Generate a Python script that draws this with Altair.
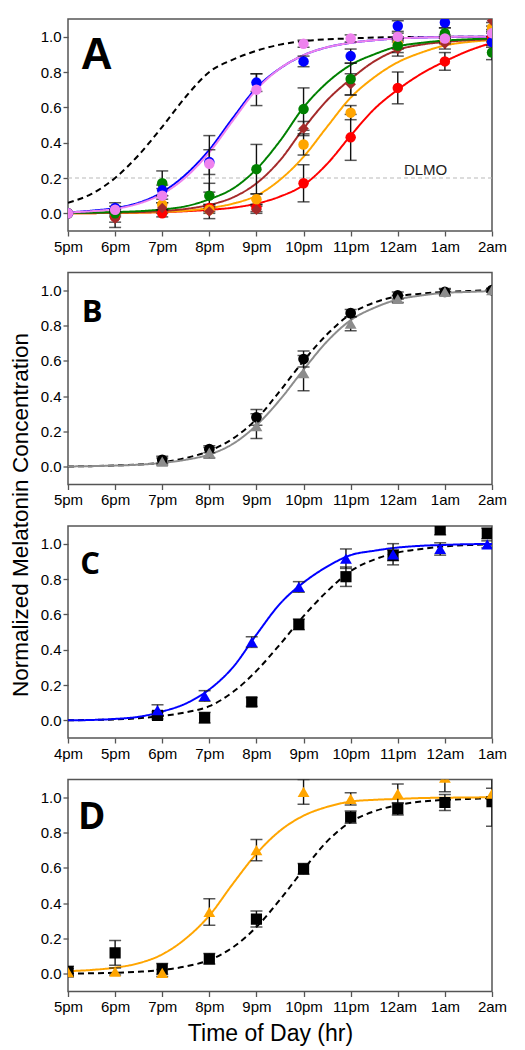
import altair as alt
import pandas as pd

FONT = "Liberation Sans"

# ---------------- data ----------------
# x tick positions / labels (hours after midnight of the previous day)
ticks_5pm = [17, 18, 19, 20, 21, 22, 23, 24, 25, 26]
labels_5pm = ["5pm", "6pm", "7pm", "8pm", "9pm", "10pm", "11pm", "12am", "1am", "2am"]
ticks_4pm = [16, 17, 18, 19, 20, 21, 22, 23, 24, 25]
labels_4pm = ["4pm", "5pm", "6pm", "7pm", "8pm", "9pm", "10pm", "11pm", "12am", "1am"]
y_ticks = [0.0, 0.2, 0.4, 0.6, 0.8, 1.0]

# curve sample times (half-hourly)
curve_t_5pm = [17, 17.5, 18, 18.5, 19, 19.5, 20, 20.5, 21, 21.5, 22, 22.5, 23, 23.5, 24, 24.5, 25, 25.5, 26]
curve_t_4pm = [16, 16.5, 17, 17.5, 18, 18.5, 19, 19.5, 20, 20.5, 21, 21.5, 22, 22.5, 23, 23.5, 24, 24.5, 25]

# ---- Panel A ----
a_t = [17, 18, 19, 20, 21, 22, 23, 24, 25, 26]
a_red = [0.0, -0.02, 0.0, 0.03, 0.03, 0.17, 0.43, 0.71, 0.86, 1.0]
a_red_err = [0.0, 0.03, 0.02, 0.02, 0.02, 0.105, 0.13, 0.09, 0.05, 0.03]
a_orange = [0.0, 0.0, 0.05, 0.02, 0.08, 0.39, 0.57, 0.96, 0.98, 1.05]
a_orange_err = [0.0, 0.01, 0.03, 0.02, 0.03, 0.06, 0.04, 0.03, 0.02, 0.03]
a_brown = [0.0, -0.03, 0.03, 0.01, 0.02, 0.48, 0.73, 0.93, 0.96, 1.09]
a_brown_err = [0.0, 0.05, 0.03, 0.04, 0.02, 0.04, 0.06, 0.04, 0.03, 0.03]
a_green = [0.0, 0.0, 0.17, 0.10, 0.25, 0.59, 0.76, 0.95, 1.02, 0.91]
a_green_err = [0.0, 0.02, 0.07, 0.07, 0.14, 0.12, 0.09, 0.04, 0.03, 0.04]
a_blue = [0.0, 0.03, 0.13, 0.29, 0.74, 0.86, 0.89, 1.06, 1.08, 0.97]
a_blue_err = [0.0, 0.03, 0.03, 0.07, 0.05, 0.03, 0.04, 0.03, 0.03, 0.03]
a_violet = [0.0, 0.02, 0.10, 0.28, 0.70, 0.96, 0.99, 1.0, 0.99, 1.02]
a_violet_err = [0.0, 0.02, 0.04, 0.16, 0.09, 0.02, 0.02, 0.02, 0.02, 0.02]

a_fit_black = [0.06, 0.11, 0.20, 0.33, 0.49, 0.66, 0.80, 0.87, 0.92, 0.955, 0.975, 0.985, 0.99, 0.995, 0.997, 0.998, 0.999, 1.0, 1.0]
a_fit_blue = [0.005, 0.015, 0.03, 0.06, 0.12, 0.22, 0.36, 0.54, 0.71, 0.82, 0.895, 0.94, 0.965, 0.98, 0.99, 0.995, 0.998, 1.0, 1.0]
a_fit_violet = [0.005, 0.012, 0.025, 0.055, 0.11, 0.205, 0.345, 0.525, 0.70, 0.82, 0.895, 0.94, 0.965, 0.98, 0.99, 0.995, 0.998, 1.0, 1.0]
a_fit_green = [0.002, 0.004, 0.007, 0.012, 0.022, 0.04, 0.08, 0.14, 0.25, 0.41, 0.60, 0.74, 0.84, 0.90, 0.945, 0.965, 0.978, 0.985, 0.99]
a_fit_brown = [0.001, 0.002, 0.004, 0.007, 0.013, 0.025, 0.048, 0.09, 0.17, 0.30, 0.48, 0.64, 0.76, 0.86, 0.925, 0.955, 0.97, 0.98, 0.985]
a_fit_orange = [0.0, 0.001, 0.002, 0.004, 0.008, 0.015, 0.03, 0.055, 0.10, 0.19, 0.32, 0.49, 0.655, 0.77, 0.855, 0.91, 0.95, 0.97, 0.98]
a_fit_red = [0.0, 0.001, 0.002, 0.004, 0.007, 0.012, 0.02, 0.032, 0.055, 0.095, 0.16, 0.28, 0.44, 0.59, 0.70, 0.79, 0.86, 0.92, 0.965]

# ---- Panel B ----
b_t = [19, 20, 21, 22, 23, 24, 25, 26]
b_black = [0.04, 0.10, 0.28, 0.61, 0.87, 0.97, 0.99, 1.0]
b_black_err = [0.02, 0.02, 0.045, 0.045, 0.02, 0.02, 0.015, 0.01]
b_gray = [0.03, 0.08, 0.23, 0.53, 0.81, 0.95, 0.99, 1.0]
b_gray_err = [0.02, 0.03, 0.07, 0.10, 0.04, 0.02, 0.02, 0.01]
b_fit_black = [0.002, 0.004, 0.008, 0.013, 0.025, 0.05, 0.09, 0.16, 0.27, 0.43, 0.60, 0.75, 0.865, 0.93, 0.965, 0.98, 0.99, 0.995, 1.0]
b_fit_gray = [0.002, 0.004, 0.007, 0.012, 0.022, 0.04, 0.07, 0.13, 0.235, 0.38, 0.55, 0.71, 0.83, 0.90, 0.947, 0.97, 0.985, 0.99, 0.995]

# ---- Panel C ----
c_t = [17.9, 18.9, 19.9, 20.9, 21.9, 22.9, 23.9, 24.9]
c_blue = [0.058, 0.138, 0.443, 0.755, 0.915, 0.94, 0.97, 0.996]
c_blue_err = [0.03, 0.03, 0.03, 0.03, 0.055, 0.06, 0.035, 0.02]
c_black = [0.028, 0.015, 0.104, 0.543, 0.813, 0.934, 1.08, 1.058]
c_black_err = [0.02, 0.03, 0.025, 0.03, 0.055, 0.03, 0.03, 0.03]
c_fit_blue = [0.0, 0.002, 0.008, 0.02, 0.05, 0.095, 0.175, 0.30, 0.485, 0.66, 0.78, 0.87, 0.935, 0.96, 0.978, 0.988, 0.993, 0.997, 0.998]
c_fit_black = [0.0, 0.002, 0.005, 0.012, 0.025, 0.045, 0.08, 0.16, 0.28, 0.43, 0.59, 0.73, 0.845, 0.91, 0.95, 0.97, 0.985, 0.992, 0.997]

# ---- Panel D ----
d_t = [17, 18, 19, 20, 21, 22, 23, 24, 25, 26]
d_black = [0.013, 0.119, 0.028, 0.085, 0.31, 0.594, 0.887, 0.934, 0.97, 0.975]
d_black_err = [0.03, 0.07, 0.03, 0.03, 0.045, 0.03, 0.035, 0.035, 0.045, 0.14]
d_orange = [0.01, 0.013, 0.005, 0.35, 0.70, 1.03, 0.99, 1.02, 1.11, 1.02]
d_orange_err = [0.02, 0.02, 0.02, 0.075, 0.06, 0.07, 0.035, 0.055, 0.08, 0.03]
d_fit_orange = [0.015, 0.022, 0.035, 0.06, 0.11, 0.20, 0.33, 0.51, 0.68, 0.81, 0.895, 0.945, 0.975, 0.985, 0.99, 0.995, 0.997, 0.998, 1.0]
d_fit_black = [0.002, 0.003, 0.006, 0.012, 0.022, 0.042, 0.078, 0.15, 0.265, 0.42, 0.59, 0.75, 0.86, 0.92, 0.955, 0.975, 0.985, 0.99, 0.995]

# ---------------- helpers ----------------
SOLID = [1, 0]
DASH = [6, 4]


def label_expr(ticks, labels):
    expr = "''"
    for t, l in reversed(list(zip(ticks, labels))):
        expr = f"datum.value == {t} ? '{l}' : ({expr})"
    return expr


def points_df(t, series):
    rows = []
    for name, vals, errs in series:
        for ti, v, e in zip(t, vals, errs):
            rows.append({"series": name, "t": ti, "v": v, "err": e,
                         "lo": v - e, "hi": v + e})
    return pd.DataFrame(rows)


def curves_df(t, curves):
    rows = []
    for name, vals in curves:
        for ti, v in zip(t, vals):
            rows.append({"series": name, "t": ti, "v": v})
    return pd.DataFrame(rows)


def panel(pts, crv, styles, xdom, xticks, xlabels, letter, letter_pos,
          letter_style, xtitle=None, ytitle=None, dlmo=False):
    names = list(styles.keys())
    colors = [styles[n]["color"] for n in names]
    shapes = [styles[n].get("shape", "circle") for n in names]
    sizes = [styles[n].get("size", 110) for n in names]
    dashes = [styles[n].get("dash", SOLID) for n in names]

    xaxis_kw = dict(values=xticks, labelExpr=label_expr(xticks, xlabels),
                    labelFlush=False, labelOverlap=False, labelBound=False)
    if xtitle:
        xaxis_kw.update(title=xtitle, titleFontSize=23, titleFont=FONT,
                        titleFontWeight="normal", titleBaseline="alphabetic",
                        titleY=49, titleX=202, titleAlign="center")
    else:
        xaxis_kw.update(title=None)
    yaxis_kw = dict(values=y_ticks, format=".1f", labelFlush=False, labelOverlap=False)
    if ytitle:
        yaxis_kw.update(title=ytitle, titleFontSize=22.5, titleFont=FONT,
                        titleFontWeight="normal", titleAngle=270,
                        titleBaseline="alphabetic", titleAlign="center",
                        titleX=-41, titleY=242)
    else:
        yaxis_kw.update(title=None)

    xscale = alt.Scale(domain=xdom, nice=False, zero=False)
    yscale = alt.Scale(domain=[-0.1, 1.1], nice=False, zero=False)
    X = lambda f: alt.X(f"{f}:Q", scale=xscale, axis=alt.Axis(**xaxis_kw))
    Y = lambda f: alt.Y(f"{f}:Q", scale=yscale, axis=alt.Axis(**yaxis_kw))
    color = alt.Color("series:N", scale=alt.Scale(domain=names, range=colors), legend=None)

    layers = []
    if dlmo:
        layers.append(alt.Chart(pd.DataFrame({"v": [0.2]})).mark_rule(
            color="#b9b9b9", strokeDash=[4, 3], strokeWidth=1.2).encode(y=Y("v")))
        layers.append(alt.Chart(pd.DataFrame({"t": [24.13], "v": [0.215], "txt": ["DLMO"]})).mark_text(
            align="left", baseline="alphabetic", fontSize=15, font=FONT, color="#222222"
        ).encode(x=X("t"), y=Y("v"), text="txt:N"))

    layers.append(alt.Chart(crv).mark_line(clip=True, strokeWidth=2, interpolate="monotone").encode(
        x=X("t"), y=Y("v"), color=color,
        strokeDash=alt.StrokeDash("series:N", scale=alt.Scale(domain=names, range=dashes), legend=None)))

    eb = pts[pts["err"] > 0]
    layers.append(alt.Chart(eb).mark_rule(clip=True, color="#111111", strokeWidth=1.4).encode(
        x=X("t"), y=Y("lo"), y2="hi:Q", detail="series:N"))
    caps = pd.concat([eb.assign(c=eb["lo"]), eb.assign(c=eb["hi"])])
    layers.append(alt.Chart(caps).mark_tick(clip=True, orient="horizontal", size=12,
                                            thickness=1.5, color="#111111").encode(
        x=X("t"), y=Y("c")))

    layers.append(alt.Chart(pts).mark_point(clip=True, filled=True, opacity=1).encode(
        x=X("t"), y=Y("v"), color=color,
        shape=alt.Shape("series:N", scale=alt.Scale(domain=names, range=shapes), legend=None),
        size=alt.Size("series:N", scale=alt.Scale(domain=names, range=sizes), legend=None)))

    layers.append(alt.Chart(pd.DataFrame({"t": [letter_pos[0]], "v": [letter_pos[1]], "lab": [letter]})).mark_text(
        align="left", baseline="alphabetic", color="black", **letter_style
    ).encode(x=X("t"), y=Y("v"), text="lab:N"))

    return alt.layer(*layers).properties(width=424, height=212)


# ---------------- panels ----------------
stylesA = {
    "fit": {"color": "#000000", "dash": DASH},
    "red": {"color": "#ff0000"},
    "orange": {"color": "#ffa500"},
    "brown": {"color": "#a52a2a", "shape": "diamond", "size": 150},
    "green": {"color": "#008000"},
    "blue": {"color": "#0000ff"},
    "violet": {"color": "#ee82ee"},
}
ptsA = points_df(a_t, [("red", a_red, a_red_err), ("orange", a_orange, a_orange_err),
                       ("brown", a_brown, a_brown_err), ("green", a_green, a_green_err),
                       ("blue", a_blue, a_blue_err), ("violet", a_violet, a_violet_err)])
crvA = curves_df(curve_t_5pm, [("fit", a_fit_black), ("red", a_fit_red), ("orange", a_fit_orange),
                               ("brown", a_fit_brown), ("green", a_fit_green),
                               ("blue", a_fit_blue), ("violet", a_fit_violet)])
pA = panel(ptsA, crvA, stylesA, [17, 26], ticks_5pm, labels_5pm, "A", (17.27, 0.816),
           dict(font=FONT, fontSize=44, fontWeight="bold"), dlmo=True)

stylesB = {
    "black": {"color": "#000000", "dash": DASH, "shape": "circle", "size": 115},
    "gray": {"color": "#8c8c8c", "shape": "triangle-up", "size": 140},
}
ptsB = points_df(b_t, [("black", b_black, b_black_err), ("gray", b_gray, b_gray_err)])
crvB = curves_df(curve_t_5pm, [("black", b_fit_black), ("gray", b_fit_gray)])
pB = panel(ptsB, crvB, stylesB, [17, 26], ticks_5pm, labels_5pm, "B", (17.29, 0.822),
           dict(font="Open Sans", fontSize=31, fontWeight="bold"),
           ytitle="Normalized Melatonin Concentration")

stylesC = {
    "black": {"color": "#000000", "dash": DASH, "shape": "square", "size": 125},
    "blue": {"color": "#0000ff", "shape": "triangle-up", "size": 140},
}
ptsC = points_df(c_t, [("black", c_black, c_black_err), ("blue", c_blue, c_blue_err)])
crvC = curves_df(curve_t_4pm, [("black", c_fit_black), ("blue", c_fit_blue)])
pC = panel(ptsC, crvC, stylesC, [16, 25], ticks_4pm, labels_4pm, "C", (16.26, 0.826),
           dict(font="Open Sans", fontSize=31, fontWeight="bold"))

stylesD = {
    "black": {"color": "#000000", "dash": DASH, "shape": "square", "size": 125},
    "orange": {"color": "#ffa500", "shape": "triangle-up", "size": 140},
}
ptsD = points_df(d_t, [("black", d_black, d_black_err), ("orange", d_orange, d_orange_err)])
crvD = curves_df(curve_t_5pm, [("black", d_fit_black), ("orange", d_fit_orange)])
pD = panel(ptsD, crvD, stylesD, [17, 26], ticks_5pm, labels_5pm, "D", (17.21, 0.82),
           dict(font="Open Sans", fontSize=37, fontWeight="bold"), xtitle="Time of Day (hr)")

chart = alt.vconcat(pA, pB, pC, pD, spacing=41.5, bounds="flush").resolve_scale(
    x="independent", y="independent", color="independent", shape="independent",
    size="independent", strokeDash="independent"
).properties(
    padding={"left": 0, "top": 10, "right": 8, "bottom": 0}
).configure_view(
    stroke="#555555", strokeWidth=1.5
).configure_axis(
    domain=False, grid=False, ticks=True, tickColor="#555555", tickWidth=1.3, tickSize=5,
    labelFont=FONT, labelFontSize=15, labelColor="#000000", labelPadding=2,
).configure_axisX(labelPadding=3)

chart.save("out.html", embed_options={"renderer": "svg", "actions": False})
